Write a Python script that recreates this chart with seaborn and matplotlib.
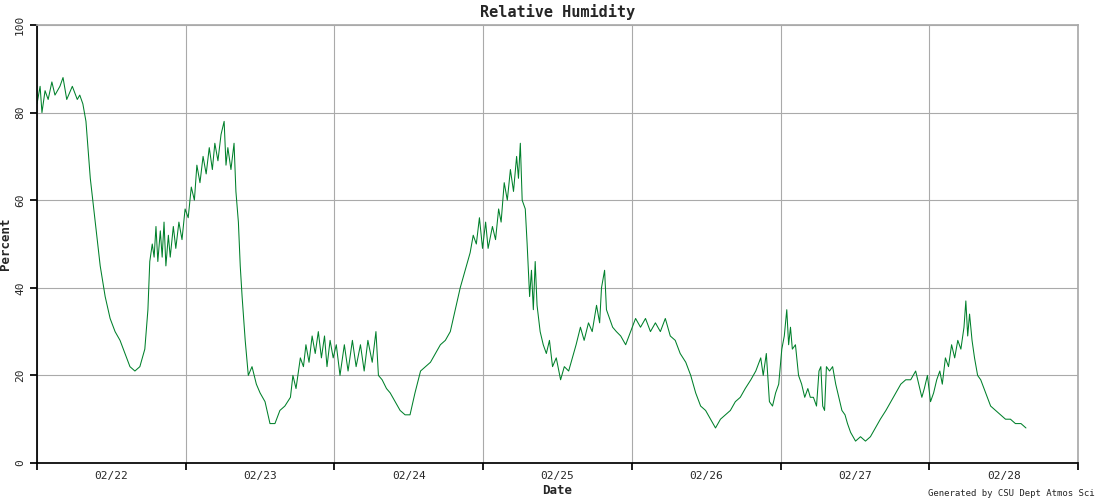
import matplotlib
matplotlib.use("Agg")
import matplotlib.pyplot as plt
import seaborn as sns
import pandas as pd

# hours since 02/22 00:00 and relative humidity (%)
hours = [0, 0.5, 0.8, 1.3, 1.8, 2.4, 2.9, 3.7, 4.2, 4.8, 5.7, 6.5, 6.9, 7.4, 7.9, 8.6, 9.4, 10.2, 11, 11.8,
         12.6, 13.4, 14.2, 15, 15.8, 16.6, 17.4, 17.9, 18.2, 18.6, 18.9, 19.2, 19.5, 19.9, 20.2, 20.5, 20.8, 21.2, 21.5, 22,
         22.4, 22.9, 23.4, 23.9, 24.4, 24.9, 25.4, 25.8, 26.3, 26.8, 27.3, 27.8, 28.3, 28.7, 29.2, 29.7, 30.2, 30.5, 30.8, 31.3,
         31.8, 32.1, 32.5, 32.8, 33.1, 33.6, 34.1, 34.7, 35.4, 36, 36.8, 37.6, 38.4, 39.2, 40, 40.9, 41.3, 41.8, 42.5, 43,
         43.4, 43.9, 44.4, 44.9, 45.4, 45.9, 46.4, 46.8, 47.3, 47.8, 48.3, 48.9, 49.6, 50.2, 50.9, 51.5, 52.2, 52.8, 53.4, 54.1,
         54.7, 55.1, 55.7, 56.4, 57, 57.8, 58.6, 59.4, 60.2, 61, 61.9, 62.7, 63.5, 64.3, 65.1, 65.9, 66.7, 67.5, 68.3, 69.1,
         69.9, 70.4, 70.9, 71.4, 71.9, 72.4, 72.8, 73.5, 74, 74.5, 74.9, 75.4, 75.9, 76.4, 76.9, 77.4, 77.7, 78, 78.3, 78.8,
         79.1, 79.5, 79.8, 80.1, 80.4, 80.7, 81.2, 81.7, 82.2, 82.7, 83.2, 83.8, 84.5, 85.1, 85.8, 86.4, 87, 87.7, 88.3, 89,
         89.6, 90.3, 90.8, 91.1, 91.6, 91.9, 92.4, 92.9, 93.5, 94.2, 95, 95.8, 96.6, 97.4, 98.2, 99, 99.8, 100.6, 101.4, 102.2,
         103, 103.8, 104.7, 105.5, 106.3, 107.1, 107.9, 108.7, 109.5, 110.3, 111.1, 111.9, 112.7, 113.5, 114.3, 115.2, 116, 116.8, 117.2, 117.7,
         118.2, 118.7, 119.2, 119.7, 120.2, 120.6, 121, 121.3, 121.6, 121.9, 122.4, 122.9, 123.4, 123.9, 124.4, 124.8, 125.3, 125.8, 126.2, 126.5,
         126.8, 127.1, 127.4, 127.9, 128.4, 128.9, 129.4, 129.9, 130.4, 130.8, 131.3, 132.1, 132.9, 133.7, 134.5, 135.3, 136.1, 137, 137.8, 138.6,
         139.4, 140.2, 141, 141.8, 142.3, 142.8, 143.2, 143.7, 144.2, 144.7, 145.2, 145.7, 146.1, 146.6, 147.1, 147.6, 148.1, 148.6, 149.1, 149.6,
         149.9, 150.2, 150.5, 150.9, 151.3, 151.8, 152.3, 153.1, 153.9, 154.7, 155.5, 156.3, 157.1, 157.9, 158.8, 159.6]
rh = [82, 86, 80, 85, 83, 87, 84, 86, 88, 83, 86, 83, 84, 82, 78, 65, 55, 45, 38, 33,
      30, 28, 25, 22, 21, 22, 26, 35, 46, 50, 47, 54, 46, 53, 47, 55, 45, 52, 47, 54,
      49, 55, 51, 58, 56, 63, 60, 68, 64, 70, 66, 72, 67, 73, 69, 75, 78, 68, 72, 67,
      73, 62, 55, 45, 38, 28, 20, 22, 18, 16, 14, 9, 9, 12, 13, 15, 20, 17, 24, 22,
      27, 23, 29, 25, 30, 24, 29, 22, 28, 24, 27, 20, 27, 21, 28, 22, 27, 21, 28, 23,
      30, 20, 19, 17, 16, 14, 12, 11, 11, 16, 21, 22, 23, 25, 27, 28, 30, 35, 40, 44,
      48, 52, 50, 56, 49, 55, 49, 54, 51, 58, 55, 64, 60, 67, 62, 70, 65, 73, 60, 58,
      50, 38, 44, 35, 46, 36, 30, 27, 25, 28, 22, 24, 19, 22, 21, 24, 27, 31, 28, 32,
      30, 36, 32, 40, 44, 35, 33, 31, 30, 29, 27, 30, 33, 31, 33, 30, 32, 30, 33, 29,
      28, 25, 23, 20, 16, 13, 12, 10, 8, 10, 11, 12, 14, 15, 17, 19, 21, 24, 20, 25,
      14, 13, 16, 18, 26, 29, 35, 27, 31, 26, 27, 20, 18, 15, 17, 15, 15, 13, 21, 22,
      13, 12, 22, 21, 22, 18, 15, 12, 11, 9, 7, 5, 6, 5, 6, 8, 10, 12, 14, 16,
      18, 19, 19, 21, 18, 15, 17, 20, 14, 16, 19, 21, 18, 24, 22, 27, 24, 28, 26, 31,
      37, 29, 34, 28, 24, 20, 19, 16, 13, 12, 11, 10, 10, 9, 9, 8]
day_labels = ["02/22", "02/23", "02/24", "02/25", "02/26", "02/27", "02/28"]

df = pd.DataFrame({"hours": hours, "rh": rh})

sns.set_theme(style="white")
plt.rcParams["font.family"] = ["DejaVu Sans Mono"]

fig = plt.figure(figsize=(11, 5), dpi=100)
ax = fig.add_axes([37 / 1100, 37 / 500, 1041 / 1100, 438 / 500])
sns.lineplot(data=df, x="hours", y="rh", ax=ax, color="#00802b", linewidth=0.75)

ax.set_xlim(0, 168)
ax.set_ylim(0, 100)
ax.set_xticks(range(0, 169, 24))
ax.set_xticklabels([])
ax.set_xticks([12 + 24 * i for i in range(len(day_labels))], minor=True)
ax.set_xticklabels(day_labels, minor=True, fontsize=8)
ax.tick_params(axis="x", which="minor", length=0, pad=6)
ax.tick_params(axis="x", which="major", length=5, direction="out", bottom=True, color="black")
ax.set_yticks(range(0, 101, 20))
ax.tick_params(axis="y", labelsize=8, length=5, direction="out", left=True, color="black", labelrotation=90)
for t in ax.get_yticklabels():
    t.set_va("center")
ax.grid(True, which="major", color="#aaaaaa", linewidth=0.8)
for s in ax.spines.values():
    s.set_color("#aaaaaa")
ax.spines["bottom"].set_color("black")
ax.spines["left"].set_color("black")

ax.set_title("Relative Humidity", fontsize=11, fontweight="bold", pad=6)
ax.set_xlabel("Date", fontsize=9, fontweight="bold", labelpad=2)
ax.set_ylabel("Percent", fontsize=9, fontweight="bold", labelpad=2)
fig.text(0.995, 0.005, "Generated by CSU Dept Atmos Sci", ha="right", va="bottom", fontsize=6.5)

fig.savefig("out.png", dpi=100)
